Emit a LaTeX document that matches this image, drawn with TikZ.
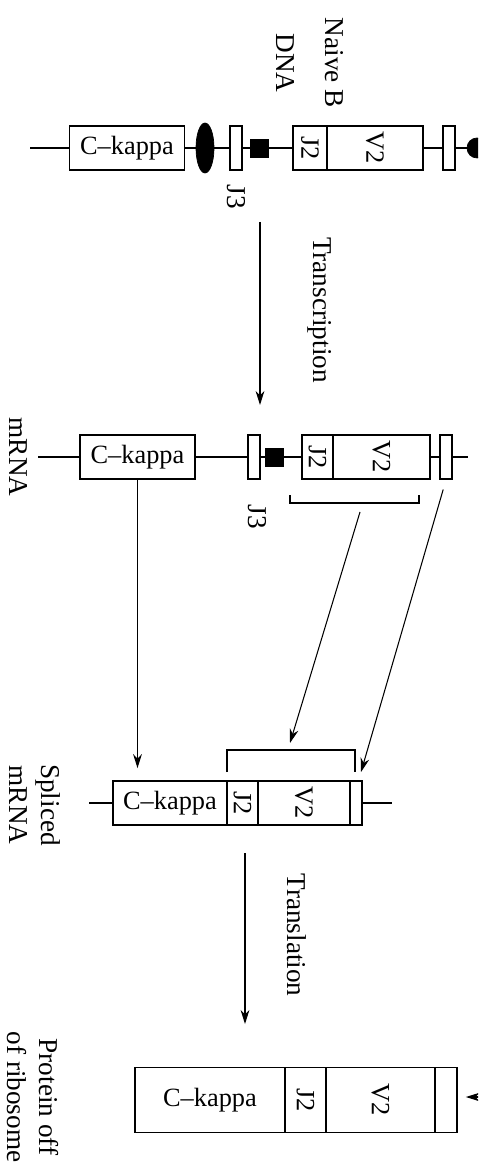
\documentclass[tikz,border=0pt]{standalone}
\usepackage{fontspec}
\setmainfont{Liberation Serif}
\usetikzlibrary{arrows.meta,shapes.geometric,calc}

\begin{document}
\begin{tikzpicture}[x=0.02cm, y=-0.02cm,
    seg/.style={rectangle, draw=black, line width=1pt, minimum height=0.88cm, inner sep=0pt, font=\fontsize{15}{17}\selectfont},
    bigseg/.style={seg, minimum height=1.3cm},
    lbl/.style={font=\fontsize{15.5}{18}\selectfont, align=center, rotate=-90, inner sep=0pt},
    strand/.style={line width=1pt},
    arrow/.style={-{Stealth[length=8pt,width=5pt]}, line width=0.6pt},
    blob/.style={fill=black, draw=black, inner sep=0pt}
]
\clip (0,0) rectangle (478,1168);

% Naive B DNA
\node[lbl] (dnalbl) at (310,63) {Naive B\\[10pt]DNA};
\coordinate (dstart) at (30,148);
\node[seg, minimum width=2.3cm] (dck) at (127,148) {C--kappa};
\node[blob, ellipse, minimum width=0.36cm, minimum height=1.0cm] (dell) at (205,148) {};
\node[seg, minimum width=0.24cm] (dj3) at (236,148) {};
\node[blob, rectangle, minimum size=0.36cm] (dsq) at (259,148) {};
\node[seg, minimum width=0.68cm] (dj2) at (310,148) {\rotatebox{-90}{J2}};
\node[seg, minimum width=1.92cm] (dv2) at (375,148) {\rotatebox{-90}{V2}};
\node[seg, minimum width=0.24cm] (dj1) at (449,148) {};
\node[blob, circle, minimum size=0.4cm] (ddot) at (477,148) {};
\node[lbl] (dj3lbl) at (236,197) {J3};
\draw[strand] (dstart) -- (dck) -- (dell) -- (dj3) -- (dsq) -- (dj2);
\draw[strand] (dv2) -- (dj1) -- (ddot);

% Transcription
\coordinate (tstart) at (260,222);
\coordinate (tend) at (260,405);
\draw[arrow] (tstart) -- (tend);
\node[lbl] (tlbl) at (320,310) {Transcription};

% mRNA
\node[lbl] (mlbl) at (18,457) {mRNA};
\coordinate (mstart) at (38,457);
\node[seg, minimum width=2.3cm] (mck) at (137.5,457) {C--kappa};
\node[seg, minimum width=0.24cm] (mj3) at (254,457) {};
\node[blob, rectangle, minimum size=0.36cm] (msq) at (274.5,457) {};
\node[seg, minimum width=0.62cm] (mj2) at (317.5,457) {\rotatebox{-90}{J2}};
\node[seg, minimum width=1.94cm] (mv2) at (381.5,457) {\rotatebox{-90}{V2}};
\node[seg, minimum width=0.24cm] (mj1) at (446,457) {};
\coordinate (mend) at (468,457);
\node[lbl] (mj3lbl) at (257,517) {J3};
\draw[strand] (mstart) -- (mck) -- (mj3) -- (msq) -- (mj2);
\draw[strand] (mv2) -- (mj1) -- (mend);
% bracket round J2 and V2
\coordinate (mb1) at (290,495);
\coordinate (mb2) at (290,503);
\coordinate (mb3) at (419,503);
\coordinate (mb4) at (419,495);
\draw[line width=0.8pt] (mb1) -- (mb2) -- (mb3) -- (mb4);
\coordinate (mbarr) at (360,512);

% Spliced mRNA
\node[lbl] (slbl) at (35,805) {Spliced\\mRNA};
\coordinate (sstart) at (89,803);
\node[seg, minimum width=2.28cm] (sck) at (170,803) {C--kappa};
\node[seg, minimum width=0.62cm] (sj2) at (242.5,803) {\rotatebox{-90}{J2}};
\node[seg, minimum width=1.84cm] (sv2) at (304,803) {\rotatebox{-90}{V2}};
\node[seg, minimum width=0.24cm] (sj1) at (356,803) {};
\coordinate (send) at (392,803);
\draw[strand] (sstart) -- (sck);
\draw[strand] (sj1) -- (send);
\coordinate (sb1) at (227,772);
\coordinate (sb2) at (227,750);
\coordinate (sb3) at (355,750);
\coordinate (sb4) at (355,772);
\draw[line width=0.8pt] (sb1) -- (sb2) -- (sb3) -- (sb4);
\coordinate (sbarr) at (290,743);
\coordinate (sj1tip) at (361,772);

% splicing arrows
\draw[arrow, shorten >=0.24cm] (mck.south) -- (mck.south |- sck.north);
\draw[arrow] (mbarr) -- (sbarr);
\draw[arrow, shorten <=0.2cm] (mj1.south) -- (sj1tip);

% Translation
\coordinate (lstart) at (245,853);
\coordinate (lend) at (245,1024);
\draw[arrow] (lstart) -- (lend);
\node[lbl] (llbl) at (297,935) {Translation};

% Protein
\node[lbl] (plbl) at (33,1097) {Protein off\\of ribosome};
\node[bigseg, minimum width=3.0cm] (pck) at (210,1100) {C--kappa};
\node[bigseg, minimum width=0.82cm] (pj2) at (305.5,1100) {\rotatebox{-90}{J2}};
\node[bigseg, minimum width=2.18cm] (pv2) at (380.5,1100) {\rotatebox{-90}{V2}};
\node[bigseg, minimum width=0.44cm] (pj1) at (446,1100) {};
\coordinate (pin) at (490,1097);
\draw[arrow, shorten >=0.16cm] (pin) -- (pj1.east |- pin);

\end{tikzpicture}
\end{document}
